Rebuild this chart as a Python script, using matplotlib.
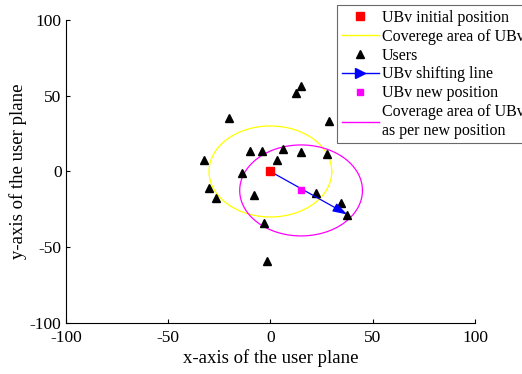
import numpy as np
import matplotlib
matplotlib.use('Agg')
import matplotlib.pyplot as plt
from matplotlib.lines import Line2D

plt.rcParams['font.family'] = ['Liberation Serif', 'DejaVu Serif']
plt.rcParams['axes.unicode_minus'] = False

# data
users_x = [14.8, 12.3, -20.4, 28.5, -10.2, -4.0, 6.1, 15.2, 27.6, -32.5,
           3.2, -13.8, -30.2, -26.8, -8.2, 22.1, 34.6, 37.6, -2.9, -1.7]
users_y = [56.3, 52.0, 35.2, 33.0, 13.7, 13.7, 14.7, 13.0, 11.4, 7.7,
           7.5, -0.9, -11.2, -17.6, -15.6, -13.9, -20.5, -28.4, -33.7, -59.2]
init_pos = (0, 0)
new_pos = (15, -12.5)
arrow_end = (37.6, -28.4)
radius = 30

fig = plt.figure(figsize=(5.22, 3.74), dpi=100)
ax = fig.add_axes([0.126, 0.136, 0.784, 0.811])

t = np.linspace(0, 2 * np.pi, 300)
ax.plot(init_pos[0] + radius * np.cos(t), init_pos[1] + radius * np.sin(t),
        color='yellow', lw=0.9, zorder=2)
ax.plot(new_pos[0] + radius * np.cos(t), new_pos[1] + radius * np.sin(t),
        color='magenta', lw=0.9, zorder=2)
ax.plot(users_x, users_y, '^', color='black', ms=6, ls='none', zorder=3)
ax.annotate('', xy=arrow_end, xytext=init_pos,
            arrowprops=dict(arrowstyle='-|>,head_length=0.8,head_width=0.25',
                            color='blue', lw=0.9, mutation_scale=11,
                            shrinkA=0, shrinkB=0), zorder=4)
ax.plot(*init_pos, 's', color='red', ms=6, zorder=5)
ax.plot(*new_pos, 's', color='magenta', ms=5, zorder=5)

ax.set_xlim(-100, 100)
ax.set_ylim(-100, 100)
ax.set_xticks([-100, -50, 0, 50, 100])
ax.set_yticks([-100, -50, 0, 50, 100])
ax.spines['top'].set_visible(False)
ax.spines['right'].set_visible(False)
ax.tick_params(labelsize=12.5, direction='in', length=3)
ax.tick_params(axis='x', pad=5)
ax.tick_params(axis='y', pad=3)
ax.set_xlabel('x-axis of the user plane', fontsize=13.5, labelpad=2)
ax.set_ylabel('y-axis of the user plane', fontsize=13.5, labelpad=2)

handles = [
    Line2D([], [], marker='s', color='red', ls='none', ms=6),
    Line2D([], [], color='yellow', lw=1),
    Line2D([], [], marker='^', color='black', ls='none', ms=6),
    Line2D([], [], color='blue', marker='>', markevery=[1], lw=1, ms=7),
    Line2D([], [], marker='s', color='magenta', ls='none', ms=5),
    Line2D([], [], color='magenta', lw=1),
]
labels = ['UBv initial position', 'Coverege area of UBv', 'Users',
          'UBv shifting line', 'UBv new position',
          'Coverage area of UBv\nas per new position']
leg = fig.legend(handles, labels, loc='upper left',
                 bbox_to_anchor=(337 / 522, 1 - 5 / 374), fontsize=11.5,
                 frameon=True, fancybox=False, edgecolor='#444444',
                 handlelength=2.3, handletextpad=0.2, labelspacing=0.18,
                 borderpad=0.3, borderaxespad=0)
leg.get_frame().set_linewidth(0.8)

fig.savefig('out.png', dpi=100)
